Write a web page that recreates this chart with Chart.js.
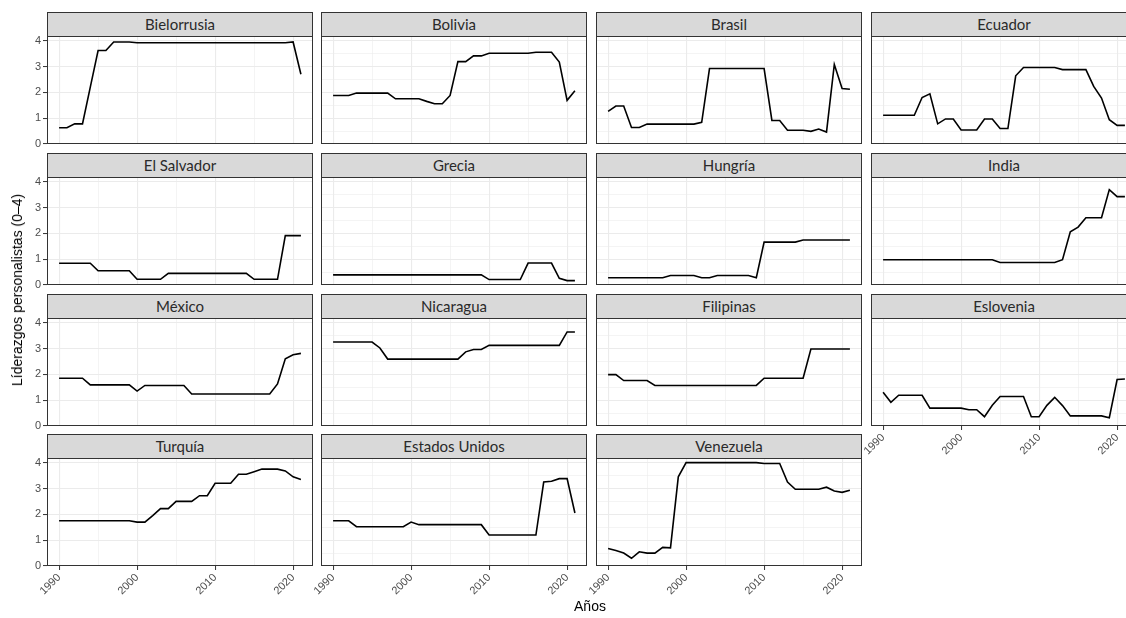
<!DOCTYPE html>
<html>
<head>
<meta charset="utf-8">
<script src="https://cdn.jsdelivr.net/npm/chart.js@4"></script>
<style>
html, body { margin: 0; padding: 0; background: #fff; overflow: hidden; }
#wrap { position: relative; width: 1126px; height: 618px; overflow: hidden; }
#wrap canvas { position: absolute; }
.strip {
    position: absolute; box-sizing: border-box; height: 25px;
    background: #d9d9d9; border: 1px solid #333;
    font: 15px Lato, "Open Sans", sans-serif; color: #2a2a2a;
    text-align: center; line-height: 22px;
}
.title { position: absolute; font: 14px "Liberation Sans", Arial, sans-serif; color: #000; white-space: nowrap; }
</style>
</head>
<body>
<div id="wrap"></div>
<script>
const years = [1990, 1991, 1992, 1993, 1994, 1995, 1996, 1997, 1998, 1999,
    2000, 2001, 2002, 2003, 2004, 2005, 2006, 2007, 2008, 2009,
    2010, 2011, 2012, 2013, 2014, 2015, 2016, 2017, 2018, 2019,
    2020, 2021];

const countries = ['Bielorrusia', 'Bolivia', 'Brasil', 'Ecuador',
    'El Salvador', 'Grecia', 'Hungría', 'India',
    'México', 'Nicaragua', 'Filipinas', 'Eslovenia',
    'Turquía', 'Estados Unidos', 'Venezuela'];

const bielorrusia = [0.63, 0.63, 0.78, 0.78, 2.2, 3.62, 3.62, 3.95, 3.95, 3.95,
    3.92, 3.92, 3.92, 3.92, 3.92, 3.92, 3.92, 3.92, 3.92, 3.92,
    3.92, 3.92, 3.92, 3.92, 3.92, 3.92, 3.92, 3.92, 3.92, 3.92,
    3.95, 2.7];
const bolivia = [1.88, 1.88, 1.88, 1.97, 1.97, 1.97, 1.97, 1.97, 1.75, 1.75,
    1.75, 1.75, 1.65, 1.56, 1.56, 1.88, 3.19, 3.19, 3.41, 3.41,
    3.51, 3.51, 3.51, 3.51, 3.51, 3.51, 3.55, 3.55, 3.55, 3.17,
    1.69, 2.06];
const brasil = [1.26, 1.47, 1.47, 0.64, 0.64, 0.77, 0.77, 0.77, 0.77, 0.77,
    0.77, 0.77, 0.84, 2.92, 2.92, 2.92, 2.92, 2.92, 2.92, 2.92,
    2.92, 0.91, 0.91, 0.53, 0.53, 0.53, 0.49, 0.58, 0.46, 3.08,
    2.15, 2.12];
const ecuador = [1.11, 1.11, 1.11, 1.11, 1.11, 1.8, 1.94, 0.78, 0.97, 0.97,
    0.54, 0.54, 0.54, 0.97, 0.97, 0.6, 0.6, 2.64, 2.96, 2.96,
    2.96, 2.96, 2.96, 2.88, 2.88, 2.88, 2.88, 2.23, 1.78, 0.94,
    0.72, 0.72];
const elSalvador = [0.84, 0.84, 0.84, 0.84, 0.84, 0.55, 0.55, 0.55, 0.55, 0.55,
    0.22, 0.22, 0.22, 0.22, 0.45, 0.45, 0.45, 0.45, 0.45, 0.45,
    0.45, 0.45, 0.45, 0.45, 0.45, 0.22, 0.22, 0.22, 0.22, 1.91,
    1.91, 1.91];
const grecia = [0.39, 0.39, 0.39, 0.39, 0.39, 0.39, 0.39, 0.39, 0.39, 0.39,
    0.39, 0.39, 0.39, 0.39, 0.39, 0.39, 0.39, 0.39, 0.39, 0.39,
    0.21, 0.21, 0.21, 0.21, 0.21, 0.85, 0.85, 0.85, 0.85, 0.26,
    0.17, 0.17];
const hungria = [0.28, 0.28, 0.28, 0.28, 0.28, 0.28, 0.28, 0.28, 0.37, 0.37,
    0.37, 0.37, 0.28, 0.28, 0.37, 0.37, 0.37, 0.37, 0.37, 0.28,
    1.66, 1.66, 1.66, 1.66, 1.66, 1.74, 1.74, 1.74, 1.74, 1.74,
    1.74, 1.74];
const india = [0.98, 0.98, 0.98, 0.98, 0.98, 0.98, 0.98, 0.98, 0.98, 0.98,
    0.98, 0.98, 0.98, 0.98, 0.98, 0.87, 0.87, 0.87, 0.87, 0.87,
    0.87, 0.87, 0.87, 0.98, 2.06, 2.24, 2.6, 2.6, 2.6, 3.69,
    3.42, 3.42];
const mexico = [1.85, 1.85, 1.85, 1.85, 1.59, 1.59, 1.59, 1.59, 1.59, 1.59,
    1.35, 1.57, 1.57, 1.57, 1.57, 1.57, 1.57, 1.24, 1.24, 1.24,
    1.24, 1.24, 1.24, 1.24, 1.24, 1.24, 1.24, 1.24, 1.63, 2.6,
    2.76, 2.81];
const nicaragua = [3.25, 3.25, 3.25, 3.25, 3.25, 3.25, 3.02, 2.59, 2.59, 2.59,
    2.59, 2.59, 2.59, 2.59, 2.59, 2.59, 2.59, 2.87, 2.96, 2.96,
    3.12, 3.12, 3.12, 3.12, 3.12, 3.12, 3.12, 3.12, 3.12, 3.12,
    3.64, 3.64];
const filipinas = [1.99, 1.99, 1.76, 1.76, 1.76, 1.76, 1.57, 1.57, 1.57, 1.57,
    1.57, 1.57, 1.57, 1.57, 1.57, 1.57, 1.57, 1.57, 1.57, 1.57,
    1.85, 1.85, 1.85, 1.85, 1.85, 1.85, 2.98, 2.98, 2.98, 2.98,
    2.98, 2.98];
const eslovenia = [1.31, 0.92, 1.19, 1.19, 1.19, 1.19, 0.69, 0.69, 0.69, 0.69,
    0.69, 0.63, 0.63, 0.36, 0.8, 1.14, 1.14, 1.14, 1.14, 0.36,
    0.36, 0.8, 1.11, 0.79, 0.39, 0.39, 0.39, 0.39, 0.39, 0.32,
    1.8, 1.82];
const turquia = [1.75, 1.75, 1.75, 1.75, 1.75, 1.75, 1.75, 1.75, 1.75, 1.75,
    1.7, 1.7, 1.95, 2.22, 2.22, 2.5, 2.5, 2.5, 2.72, 2.72,
    3.2, 3.2, 3.2, 3.55, 3.55, 3.65, 3.75, 3.75, 3.75, 3.68,
    3.45, 3.35];
const estadosUnidos = [1.75, 1.75, 1.75, 1.52, 1.52, 1.52, 1.52, 1.52, 1.52, 1.52,
    1.7, 1.6, 1.6, 1.6, 1.6, 1.6, 1.6, 1.6, 1.6, 1.6,
    1.2, 1.2, 1.2, 1.2, 1.2, 1.2, 1.2, 3.25, 3.28, 3.38,
    3.38, 2.05];
const venezuela = [0.68, 0.6, 0.5, 0.3, 0.55, 0.5, 0.5, 0.72, 0.7, 3.45,
    4.0, 4.0, 4.0, 4.0, 4.0, 4.0, 4.0, 4.0, 4.0, 4.0,
    3.97, 3.97, 3.97, 3.25, 2.97, 2.97, 2.97, 2.97, 3.05, 2.9,
    2.85, 2.93];

const series = [bielorrusia, bolivia, brasil, ecuador, elSalvador, grecia, hungria, india,
    mexico, nicaragua, filipinas, eslovenia, turquia, estadosUnidos, venezuela];

// grid positions (major + minor) and axis limits
const xGrid = [1990, 1995, 2000, 2005, 2010, 2015, 2020];
const yGrid = [0, 0.5, 1, 1.5, 2, 2.5, 3, 3.5, 4];
const xMin = 1988.45, xMax = 2022.55;
const yMin = 0, yMax = 4.18;

// panel layout
const colX = [47, 321, 596, 871];
const rowY = [36, 177, 318, 458];
const panelW = 266, panelH = 108;
const wrap = document.getElementById('wrap');

const panelBorder = {
    id: 'panelBorder',
    afterDraw(chart) {
        const a = chart.chartArea;
        const ctx = chart.ctx;
        ctx.save();
        ctx.strokeStyle = '#333333';
        ctx.lineWidth = 1;
        ctx.strokeRect(Math.round(a.left) + 0.5, Math.round(a.top) + 0.5,
            Math.round(a.right - a.left) - 1, Math.round(a.bottom - a.top) - 1);
        ctx.restore();
    }
};

function makePanel(i) {
    const col = i % 4, row = Math.floor(i / 4);
    const showY = col === 0;
    const showX = row === 3 || i === 11;
    const P = 3;
    // left margin also has to hold the rotated "1990" label
    const L = showY ? 47 : (showX ? 34 : P);
    const B = showX ? 48 : P;
    const x0 = colX[col], y0 = rowY[row];

    const strip = document.createElement('div');
    strip.className = 'strip';
    strip.style.left = x0 + 'px';
    strip.style.top = (y0 - 24) + 'px';
    strip.style.width = panelW + 'px';
    strip.textContent = countries[i];

    const canvas = document.createElement('canvas');
    canvas.width = L + panelW + P;
    canvas.height = P + panelH + B;
    canvas.style.left = (x0 - L) + 'px';
    canvas.style.top = (y0 - P) + 'px';
    wrap.appendChild(canvas);
    wrap.appendChild(strip);

    const tickFont = { family: '"Liberation Sans", Arial, sans-serif', size: 11 };

    new Chart(canvas, {
        type: 'line',
        data: {
            datasets: [{
                data: years.map((y, k) => ({ x: y, y: series[i][k] })),
                borderColor: '#000',
                borderWidth: 1.6,
                pointRadius: 0,
                tension: 0,
                fill: false
            }]
        },
        options: {
            responsive: false,
            animation: false,
            events: [],
            layout: { padding: { top: P, right: P, left: 0, bottom: 0 }, autoPadding: false },
            plugins: { legend: { display: false }, tooltip: { enabled: false } },
            scales: {
                x: {
                    type: 'linear', min: xMin, max: xMax,
                    afterBuildTicks: s => { s.ticks = xGrid.map(v => ({ value: v })); },
                    afterFit: s => {
                        s.height = B;
                        s.paddingLeft = s.paddingRight = s.paddingTop = s.paddingBottom = 0;
                    },
                    border: { display: false },
                    grid: {
                        color: '#ebebeb',
                        lineWidth: c => (c.tick && c.tick.value % 10 === 0) ? 1.1 : 0.55,
                        drawTicks: showX,
                        tickLength: 4,
                        tickWidth: 1,
                        tickColor: c => (c.tick && c.tick.value % 10 === 0) ? '#333' : 'rgba(0,0,0,0)'
                    },
                    ticks: {
                        display: showX,
                        autoSkip: false,
                        minRotation: 45, maxRotation: 45,
                        padding: 1,
                        color: '#4d4d4d',
                        font: tickFont,
                        callback: v => v % 10 === 0 ? String(v) : ''
                    }
                },
                y: {
                    min: yMin, max: yMax,
                    afterBuildTicks: s => { s.ticks = yGrid.map(v => ({ value: v })); },
                    afterFit: s => {
                        s.width = L;
                        s.paddingLeft = s.paddingRight = s.paddingTop = s.paddingBottom = 0;
                    },
                    border: { display: false },
                    grid: {
                        color: '#ebebeb',
                        lineWidth: c => (c.tick && Number.isInteger(c.tick.value)) ? 1.1 : 0.55,
                        drawTicks: showY,
                        tickLength: 4,
                        tickWidth: 1,
                        tickColor: c => (c.tick && Number.isInteger(c.tick.value)) ? '#333' : 'rgba(0,0,0,0)'
                    },
                    ticks: {
                        display: showY,
                        padding: 2,
                        color: '#4d4d4d',
                        font: tickFont,
                        callback: v => Number.isInteger(v) ? String(v) : ''
                    }
                }
            }
        },
        plugins: [panelBorder]
    });
}

countries.forEach((c, i) => makePanel(i));

// axis titles
const xTitle = document.createElement('div');
xTitle.className = 'title';
xTitle.textContent = 'Años';
xTitle.style.left = '560px';
xTitle.style.width = '60px';
xTitle.style.textAlign = 'center';
xTitle.style.top = '598px';
wrap.appendChild(xTitle);

const yTitle = document.createElement('div');
yTitle.className = 'title';
yTitle.textContent = 'Líderazgos personalistas (0–4)';
yTitle.style.left = '17px';
yTitle.style.top = '290px';
yTitle.style.transform = 'translate(-50%, -50%) rotate(-90deg)';
wrap.appendChild(yTitle);
</script>
</body>
</html>
